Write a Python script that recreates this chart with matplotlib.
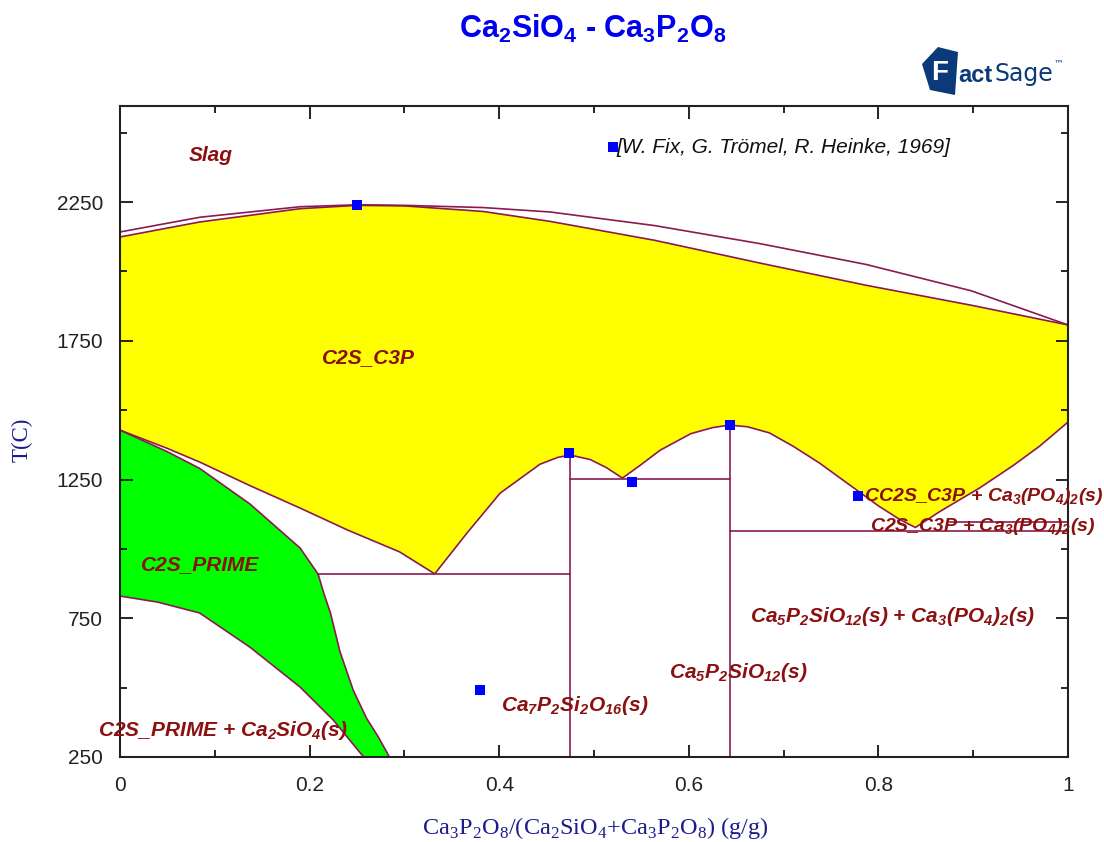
import matplotlib
matplotlib.use('Agg')
import matplotlib.pyplot as plt
from matplotlib.patches import Polygon

# ---------------- data ----------------
# liquidus (two lines at top)
liq_outer_x = [0.0, 0.084, 0.19, 0.25, 0.30, 0.383, 0.454, 0.564, 0.675, 0.787, 0.898, 1.0]
liq_outer_T = [2142, 2195, 2233, 2240, 2238, 2230, 2214, 2165, 2100, 2025, 1930, 1807]
liq_inner_x = [0.0, 0.084, 0.19, 0.25, 0.30, 0.383, 0.454, 0.564, 0.675, 0.787, 0.898, 1.0]
liq_inner_T = [2124, 2178, 2226, 2238, 2236, 2216, 2180, 2112, 2030, 1950, 1878, 1807]

# lower boundary of the C2S_C3P field
c2s_c3p_low_x = [0.0, 0.05, 0.084, 0.137, 0.19, 0.24, 0.295, 0.332, 0.366, 0.401, 0.443,
                 0.462, 0.475, 0.496, 0.513, 0.530, 0.549, 0.570, 0.602, 0.625, 0.643, 0.662,
                 0.685, 0.710, 0.738, 0.767, 0.784, 0.80, 0.823, 0.839, 0.865, 0.907, 0.942,
                 0.97, 1.0]
c2s_c3p_low_T = [1428, 1362, 1313, 1228, 1147, 1068, 989, 910, 1057, 1201, 1305,
                 1330, 1338, 1322, 1293, 1255, 1302, 1356, 1415, 1437, 1446, 1440,
                 1418, 1370, 1309, 1237, 1195, 1155, 1105, 1077, 1135, 1220, 1300,
                 1370, 1457]

# C2S_PRIME field
green_upper_x = [0.0, 0.05, 0.084, 0.137, 0.19, 0.209]
green_upper_T = [1428, 1350, 1290, 1162, 1003, 909]
green_right_x = [0.209, 0.215, 0.222, 0.232, 0.246, 0.260, 0.272, 0.282, 0.284]
green_right_T = [909, 840, 769, 630, 491, 390, 325, 264, 250]
green_lower_x = [0.0, 0.04, 0.084, 0.137, 0.19, 0.225, 0.257]
green_lower_T = [830, 808, 769, 646, 502, 383, 250]

# invariant lines
hlines_T = [909, 1252, 1064, 1097]
hlines_x0 = [0.209, 0.475, 0.643, 0.875]
hlines_x1 = [0.475, 0.643, 1.0, 1.0]
vlines_x = [0.475, 0.643]
vlines_T0 = [250, 250]
vlines_T1 = [1338, 1446]

# experimental points [W. Fix, G. Trömel, R. Heinke, 1969]
exp_x = [0.25, 0.474, 0.540, 0.643, 0.778, 0.38]
exp_T = [2240, 1346, 1241, 1446, 1191, 491]

# ---------------- styling ----------------
LINE = '#8a1a50'
TXT = '#8b1010'
S = r'$_{\mathregular{%s}}$'


def f(s):
    # replace {n} by subscripts
    out = ''
    i = 0
    while i < len(s):
        if s[i] == '{':
            j = s.index('}', i)
            out += S % s[i + 1:j]
            i = j + 1
        else:
            out += s[i]
            i += 1
    return out


fig = plt.figure(figsize=(11.04, 8.42), dpi=100)
ax = fig.add_axes([120 / 1104, 1 - 757 / 842, 948 / 1104, (757 - 106) / 842])
ax.set_xlim(0, 1)
ax.set_ylim(250, 2596)

# fills
yx = liq_inner_x + c2s_c3p_low_x[::-1]
yT = liq_inner_T + c2s_c3p_low_T[::-1]
ax.fill(yx, yT, color='#ffff00', lw=0, zorder=1)
gx = green_upper_x + green_right_x[1:] + green_lower_x[::-1]
gT = green_upper_T + green_right_T[1:] + green_lower_T[::-1]
ax.fill(gx, gT, color='#00ff00', lw=0, zorder=1)

lw = 1.2
for xs, ts in [(liq_outer_x, liq_outer_T), (liq_inner_x, liq_inner_T),
               (c2s_c3p_low_x, c2s_c3p_low_T), (green_upper_x, green_upper_T),
               (green_right_x, green_right_T), (green_lower_x, green_lower_T)]:
    ax.plot(xs, ts, color=LINE, lw=lw, zorder=2)
for T, x0, x1 in zip(hlines_T, hlines_x0, hlines_x1):
    ax.plot([x0, x1], [T, T], color=LINE, lw=lw, zorder=2)
for x, t0, t1 in zip(vlines_x, vlines_T0, vlines_T1):
    ax.plot([x, x], [t0, t1], color=LINE, lw=lw, zorder=2)

ax.plot(exp_x, exp_T, 's', color='#0000ff', ms=7, mew=0, zorder=4, clip_on=False)
ax.plot([0.52], [2448], 's', color='#0000ff', ms=7, mew=0, zorder=4)
ax.text(0.524, 2448, '[W. Fix, G. Trömel, R. Heinke, 1969]', fontsize=15,
        style='italic', family='Liberation Sans', color='#111111', va='center', ha='left')

lab = dict(fontsize=15, style='italic', weight='bold', family='Liberation Sans', color=TXT,
           va='center', zorder=5)
ax.text(0.096, 2419, 'Slag', ha='center', **lab)
ax.text(0.262, 1691, 'C2S_C3P', ha='center', **lab)
ax.text(0.085, 942, 'C2S_PRIME', ha='center', **lab)
ax.text(0.108, 347, f('C2S_PRIME + Ca{2}SiO{4}(s)'), ha='center', **lab)
ax.text(0.48, 437, f('Ca{7}P{2}Si{2}O{16}(s)'), ha='center', **lab)
ax.text(0.652, 556, f('Ca{5}P{2}SiO{12}(s)'), ha='center', **lab)
ax.text(0.815, 755, f('Ca{5}P{2}SiO{12}(s) + Ca{3}(PO{4}){2}(s)'), ha='center', **lab)
lab_r = dict(lab, fontsize=14)
ax.text(0.785, 1190, f('CC2S_C3P + Ca{3}(PO{4}){2}(s)'), ha='left', **lab_r)
ax.text(0.791, 1079, f('C2S_C3P + Ca{3}(PO{4}){2}(s)'), ha='left', **lab_r)

# axes / ticks
ax.set_xticks([0, 0.2, 0.4, 0.6, 0.8, 1.0])
ax.set_xticklabels(['0', '0.2', '0.4', '0.6', '0.8', '1'])
ax.set_xticks([0.1, 0.3, 0.5, 0.7, 0.9], minor=True)
ax.set_yticks([250, 750, 1250, 1750, 2250])
ax.set_yticks([500, 1000, 1500, 2000, 2500], minor=True)
ax.tick_params(which='both', direction='in', top=True, right=True, labelsize=15,
               labelcolor='#222222', labelfontfamily='Liberation Sans', width=1.2)
ax.tick_params(which='major', length=9)
ax.tick_params(which='minor', length=5)
ax.tick_params(axis='x', pad=14)
ax.tick_params(axis='y', pad=12)
for sp in ax.spines.values():
    sp.set_linewidth(1.5)
    sp.set_color('#222222')

# axis labels
fig.text(22 / 1104, 1 - 440 / 842, 'T(C)', rotation=90, ha='center', va='center',
         fontsize=16.5, family='Liberation Serif', color='#1c1c8c')
fig.text(595 / 1104, 1 - 828 / 842, f('Ca{3}P{2}O{8}/(Ca{2}SiO{4}+Ca{3}P{2}O{8}) (g/g)'),
         ha='center', va='center', fontsize=17.5, family='Liberation Serif', color='#1c1c8c')

# title
fig.text(593 / 1104, 1 - 29 / 842, f('Ca{2}SiO{4} - Ca{3}P{2}O{8}'), ha='center', va='center',
         fontsize=22, weight='bold', family='Liberation Sans', color='#0000ee')

# FactSage logo (approximation)
NAVY = '#0b3a7a'
logo = Polygon([(922 / 1104, 1 - 64 / 842), (938 / 1104, 1 - 47 / 842),
                (958 / 1104, 1 - 52 / 842), (955 / 1104, 1 - 95 / 842),
                (930 / 1104, 1 - 90 / 842)], closed=True, transform=fig.transFigure,
               facecolor=NAVY, edgecolor='none')
fig.patches.append(logo)
fig.text(931 / 1104, 1 - 73 / 842, 'F', ha='left', va='center', fontsize=20,
         weight='bold', family='Liberation Sans', color='white')
fig.text(958 / 1104, 1 - 75 / 842, 'act', ha='left', va='center', fontsize=17,
         weight='bold', family='Liberation Sans', color=NAVY)
fig.text(995 / 1104, 1 - 74 / 842, 'Sage', ha='left', va='center', fontsize=17,
         family='Liberation Sans Narrow', color=NAVY)
fig.text(1054 / 1104, 1 - 63 / 842, '\u2122', ha='left', va='center', fontsize=7,
         family='DejaVu Sans', color=NAVY)

fig.savefig('out.png', dpi=100, facecolor='white')
